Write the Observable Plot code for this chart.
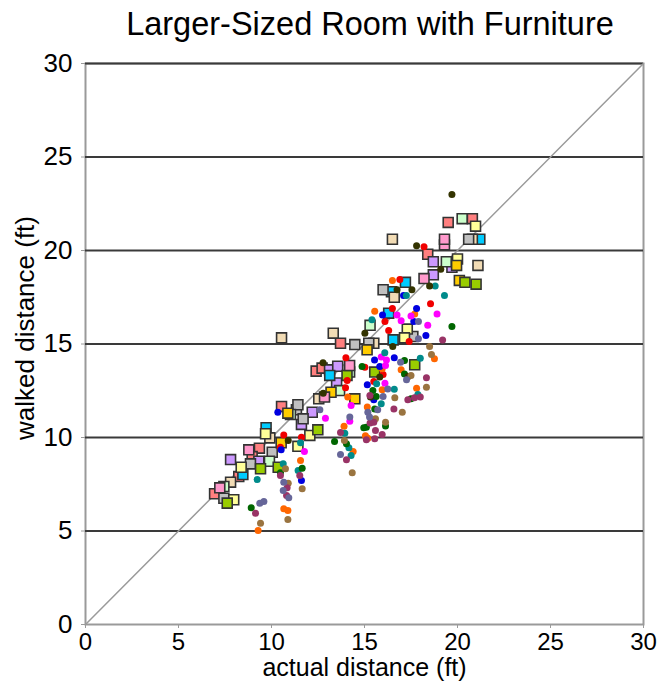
<!DOCTYPE html>
<html>
<head>
<meta charset="utf-8">
<script src="https://cdn.jsdelivr.net/npm/d3@7"></script>
<script src="https://cdn.jsdelivr.net/npm/@observablehq/plot@0.6"></script>
<style>
  html, body { margin: 0; padding: 0; background: #fff; }
  #chart svg { display: block; }
</style>
</head>
<body>
<div id="chart"></div>
<script>
// ---------- text ----------
const titleText = "Larger-Sized Room with Furniture";
const xLabel = "actual distance (ft)";
const yLabel = "walked distance (ft)";
const ticks = [0, 5, 10, 15, 20, 25, 30];
const gridValues = [5, 10, 15, 20, 25, 30];
const diagonal = [0, 30];

// ---------- circle series: [actual, walked] ----------
const redPts = [[18.2,20.2],[16.9,18.45],[16.5,16.9],[16.1,16.2],[18.55,17.15],[16.3,15.72],[17.4,15.13],[16.0,13.37],[14.0,14.26],[14.07,13.05],[13.98,12.66],[15.02,13.76],[15.5,13.0],[10.66,10.14],[11.61,10.02],[10.48,9.48]];
const orangePts = [[16.5,18.4],[15.55,16.75],[17.7,16.6],[18.76,14.21],[16.97,13.62],[15.95,13.67],[14.1,12.16],[17.8,12.64],[15.95,12.55],[15.15,11.63],[13.9,10.6],[15.05,10.1],[15.18,9.96],[14.39,9.25],[11.56,8.77],[10.66,6.19],[10.88,6.1],[9.28,5.03]];
const bluePts = [[17.1,17.6],[15.97,16.55],[17.8,16.9],[17.65,16.2],[15.54,14.15],[15.82,13.8],[16.6,14.26],[18.3,15.45],[15.15,12.82],[15.5,12.02],[10.34,11.35],[10.52,9.34],[11.61,7.7]];
const magentaPts = [[16.75,16.55],[16.97,16.25],[17.5,16.5],[18.9,16.6],[18.4,16.0],[15.9,14.3],[16.18,14.15],[16.13,13.85],[16.1,12.9],[14.28,11.71],[12.9,11.03],[14.21,10.87],[11.77,9.25]];
const tealPts = [[18.8,18.1],[19.3,17.6],[17.25,17.6],[15.4,16.3],[16.09,14.53],[18.0,14.24],[17.87,12.3],[15.65,12.87],[16.6,12.58],[15.9,11.8],[13.94,10.23],[14.16,9.45],[14.28,9.04],[11.56,9.72],[10.63,8.59],[11.43,8.24],[9.23,7.75]];
const darkGreenPts = [[19.7,15.94],[17.15,14.12],[14.87,13.8],[17.15,13.4],[17.5,12.07],[15.45,12.51],[15.63,12.19],[15.55,11.53],[16.13,10.61],[14.96,10.52],[15.1,10.55],[13.39,9.79],[14.03,9.66],[11.65,8.36],[10.48,8.11],[8.91,6.24]];
const darkOlivePts = [[19.7,23.0],[17.8,20.25],[19.1,19.0],[18.5,18.1],[16.75,17.9],[17.55,17.9],[15.02,15.58],[16.52,14.87],[12.77,14.0],[12.78,12.37],[15.82,13.23],[17.35,13.26],[15.32,12.16],[10.9,9.84]];
const brownPts = [[18.5,14.87],[18.6,14.44],[17.5,13.32],[18.33,12.69],[16.63,12.12],[17.03,11.35],[15.59,11.0],[16.13,10.82],[13.92,9.84],[14.34,8.11],[10.75,8.33],[10.9,7.56],[11.65,7.26],[10.88,5.61],[9.41,5.42]];
const plumPts = [[19.2,15.22],[18.33,13.19],[17.33,12.02],[17.69,12.12],[18.0,12.16],[15.29,12.25],[16.58,11.53],[15.5,10.82],[15.3,10.77],[15.59,10.37],[15.95,10.16],[13.71,10.27],[15.1,9.88],[15.55,9.93],[14.03,8.81],[11.52,7.97],[10.84,7.31],[10.81,6.9],[10.48,7.97],[9.14,5.95]];
const slatePts = [[17.9,16.2],[17.9,15.28],[16.94,14.03],[17.26,13.09],[16.25,12.6],[16.0,12.19],[15.71,11.48],[15.18,11.35],[15.27,11.09],[14.21,11.09],[12.6,11.48],[13.71,9.09],[10.66,7.61],[10.63,7.17],[10.93,6.78],[9.37,6.49],[9.59,6.58]];

// ---------- square series: [actual, walked] ----------
const salmonSq = [[19.5,21.5],[20.8,21.7],[18.4,19.8],[13.71,15.04],[12.4,13.55],[12.72,13.71],[10.54,11.66],[9.35,9.43],[8.96,8.98],[8.24,7.91],[6.94,6.99]];
const lavenderSq = [[18.7,19.4],[19.7,19.1],[18.7,18.7],[13.12,13.62],[13.56,13.81],[13.5,12.92],[12.19,11.35],[11.61,10.7],[9.32,8.73],[7.8,8.82]];
const cyanSq = [[21.2,20.6],[17.2,18.3],[16.45,17.8],[16.3,16.65],[16.54,15.22],[13.13,13.32],[9.71,10.52],[8.46,8.02]];
const tanSq = [[16.5,20.6],[20.8,20.6],[21.1,19.2],[16.6,17.5],[10.54,15.33],[13.32,15.58],[15.5,15.04],[12.54,12.07],[9.91,9.98],[7.8,7.61]];
const graySq = [[20.6,20.6],[16.0,17.9],[14.48,14.97],[15.23,15.04],[17.6,15.4],[11.34,11.48],[11.42,11.75],[11.7,11.0],[10.04,9.21],[8.87,8.59],[7.44,6.75]];
const mintSq = [[20.25,21.7],[19.4,19.4],[15.3,16.0],[14.2,13.5],[13.66,12.51],[11.02,11.23],[9.89,8.73],[7.44,7.38]];
const paleYellowSq = [[20.97,21.3],[20.0,19.55],[17.3,15.8],[17.15,15.33],[12.06,10.11],[9.68,10.2],[11.42,9.53],[8.37,8.41],[7.97,6.67]];
const goldSq = [[19.95,19.2],[20.1,18.4],[15.14,14.69],[13.2,12.42],[14.48,12.07],[10.88,11.3],[10.52,9.72]];
const limeSq = [[20.4,18.3],[21.0,18.2],[14.06,13.32],[17.7,13.89],[15.55,13.5],[12.49,10.41],[9.41,8.33],[10.36,8.41],[7.62,6.49]];
const pinkSq = [[19.3,20.3],[19.3,20.6],[18.2,18.5],[14.2,13.85],[12.85,12.16],[8.78,9.34],[7.22,7.31]];

const circleSeries = [
  [redPts, "#f00000"], [orangePts, "#ff6600"], [bluePts, "#0000e0"], [magentaPts, "#ff00ff"],
  [tealPts, "#008b8b"], [darkGreenPts, "#006600"], [darkOlivePts, "#333300"], [brownPts, "#9a7440"],
  [plumPts, "#993366"], [slatePts, "#666699"]
];
const squareSeries = [
  [salmonSq, "#ff7f7f"], [lavenderSq, "#cc99ff"], [cyanSq, "#00ccff"], [tanSq, "#f2dcb5"],
  [graySq, "#c0c0c0"], [mintSq, "#ccffcc"], [paleYellowSq, "#ffff99"], [goldSq, "#ffcc00"],
  [limeSq, "#99cc00"], [pinkSq, "#ff99cc"]
];

const FONT = "'Liberation Sans', Arial, Helvetica, sans-serif";

const marks = [
  Plot.frame({stroke: "#9a9a9a", strokeWidth: 2}),
  Plot.ruleY(gridValues, {stroke: "#3a3a3a", strokeWidth: 2}),
  Plot.line(diagonal, {x: d => d, y: d => d, stroke: "#9a9a9a", strokeWidth: 1.5}),
  Plot.axisX({ticks, tickSize: 4, tickPadding: 4, stroke: "#9a9a9a", fontSize: 24, label: null, tickFormat: d => String(d)}),
  Plot.axisY({ticks, tickSize: 4, tickPadding: 9, stroke: "#9a9a9a", fontSize: 26, label: null, tickFormat: d => String(d)}),
];
for (const [pts, color] of squareSeries) {
  marks.push(Plot.dot(pts, {x: d => d[0], y: d => d[1], symbol: "square", r: 5.6, fill: color, stroke: "#333", strokeWidth: 1.6}));
}
for (const [pts, color] of circleSeries) {
  marks.push(Plot.dot(pts, {x: d => d[0], y: d => d[1], r: 3.5, fill: color, stroke: "none"}));
}
marks.push(Plot.text([xLabel], {frameAnchor: "bottom", dy: 51, textAnchor: "middle", text: d => d, fontSize: 25, fill: "#000"}));
marks.push(Plot.text([yLabel], {frameAnchor: "left", dx: -60, dy: -16, rotate: -90, textAnchor: "middle", lineAnchor: "middle", text: d => d, fontSize: 26, fill: "#000"}));

const chart = Plot.plot({
  width: 658,
  height: 683,
  marginLeft: 85,
  marginRight: 15,
  marginTop: 63,
  marginBottom: 59,
  x: {domain: [0, 30]},
  y: {domain: [0, 30]},
  style: {fontFamily: FONT, color: "#000", background: "#fff", overflow: "visible"},
  marks
});

d3.select(chart).append("text")
  .attr("x", 370).attr("y", 35)
  .attr("text-anchor", "middle")
  .attr("font-size", 32.5)
  .attr("font-family", FONT)
  .attr("fill", "#000")
  .text(titleText);

document.getElementById("chart").appendChild(chart);
</script>
</body>
</html>
